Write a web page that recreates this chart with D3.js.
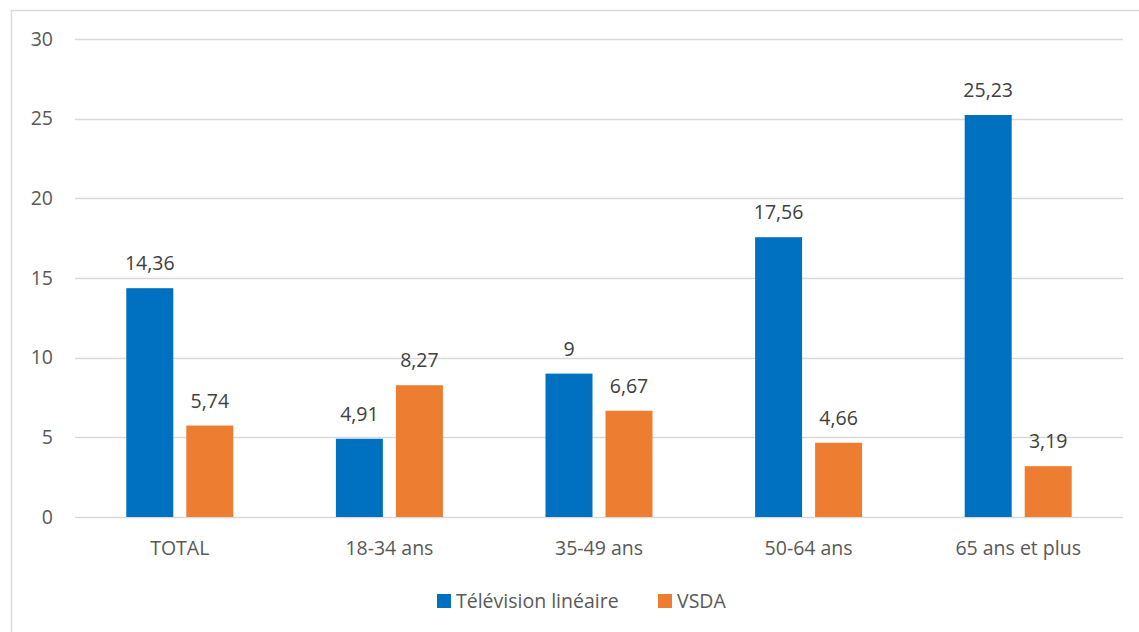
<!DOCTYPE html>
<html>
<head>
<meta charset="utf-8">
<script src="https://cdnjs.cloudflare.com/ajax/libs/d3/7.8.5/d3.min.js"></script>
<style>
  body { margin: 0; background: #fff; }
  svg text { font-family: "Open Sans", "Noto Sans", sans-serif; fill: #595959; }
</style>
</head>
<body>
<svg width="1139" height="632"></svg>
<script>
// data
var categories = ["TOTAL", "18-34 ans", "35-49 ans", "50-64 ans", "65 ans et plus"];
var seriesNames = ["Télévision linéaire", "VSDA"];
var tvValues = [14.36, 4.91, 9, 17.56, 25.23];
var vsdaValues = [5.74, 8.27, 6.67, 4.66, 3.19];
var yTicks = [0, 5, 10, 15, 20, 25, 30];
var colors = ["#0070C0", "#ED7D31"];

var svg = d3.select("svg");
var fontSize = "19.5px";

// chart frame
svg.append("rect")
    .attr("x", 11.5).attr("y", 10.5)
    .attr("width", 1139).attr("height", 640)
    .attr("fill", "none")
    .attr("stroke", "#D9D9D9")
    .attr("stroke-width", 1.5);

var plotLeft = 75, plotRight = 1123, plotTop = 39, plotBottom = 517;

var y = d3.scaleLinear().domain([0, 30]).range([plotBottom, plotTop]);
var x0 = d3.scaleBand().domain(categories).range([plotLeft, plotRight]).padding(0);
var x1 = d3.scaleBand().domain(seriesNames)
    .range([x0.bandwidth() / 2 - 53.5, x0.bandwidth() / 2 + 53.5])
    .paddingInner(0.217);

// grid
svg.append("g").selectAll("line")
    .data(yTicks)
    .enter().append("line")
    .attr("x1", plotLeft).attr("x2", plotRight)
    .attr("y1", function(d) { return Math.round(y(d)) + 0.5; })
    .attr("y2", function(d) { return Math.round(y(d)) + 0.5; })
    .attr("stroke", "#D9D9D9")
    .attr("stroke-width", 1.5);

// y labels
svg.append("g").selectAll("text")
    .data(yTicks)
    .enter().append("text")
    .attr("x", 53)
    .attr("y", function(d) { return y(d); })
    .attr("dy", "0.35em")
    .attr("text-anchor", "end")
    .style("font-size", fontSize)
    .text(function(d) { return d; });

var rows = categories.map(function(c, i) {
  return { cat: c, vals: [tvValues[i], vsdaValues[i]] };
});

var groups = svg.append("g").selectAll("g")
    .data(rows)
    .enter().append("g")
    .attr("transform", function(d) { return "translate(" + x0(d.cat) + ",0)"; });

groups.selectAll("rect")
    .data(function(d) { return d.vals.map(function(v, j) { return { s: seriesNames[j], v: v, j: j }; }); })
    .enter().append("rect")
    .attr("x", function(d) { return x1(d.s); })
    .attr("width", x1.bandwidth())
    .attr("y", function(d) { return y(d.v); })
    .attr("height", function(d) { return y(0) - y(d.v); })
    .attr("fill", function(d) { return colors[d.j]; });

groups.selectAll("text")
    .data(function(d) { return d.vals.map(function(v, j) { return { s: seriesNames[j], v: v }; }); })
    .enter().append("text")
    .attr("x", function(d) { return x1(d.s) + x1.bandwidth() / 2; })
    .attr("y", function(d) { return y(d.v) - 18; })
    .attr("text-anchor", "middle")
    .style("font-size", fontSize)
    .style("fill", "#404040")
    .text(function(d) { return String(d.v).replace(".", ","); });

// category labels
svg.append("g").selectAll("text")
    .data(categories)
    .enter().append("text")
    .attr("x", function(d) { return x0(d) + x0.bandwidth() / 2; })
    .attr("y", 548)
    .attr("dy", "0.35em")
    .attr("text-anchor", "middle")
    .style("font-size", fontSize)
    .text(function(d) { return d; });

// legend
var legendX = [437, 658];
var legend = svg.append("g").selectAll("g")
    .data(seriesNames)
    .enter().append("g")
    .attr("transform", function(d, i) { return "translate(" + legendX[i] + ",601)"; });
legend.append("rect")
    .attr("x", 0).attr("y", -7)
    .attr("width", 14).attr("height", 14)
    .attr("fill", function(d, i) { return colors[i]; });
legend.append("text")
    .attr("x", 19)
    .attr("dy", "0.35em")
    .style("font-size", fontSize)
    .text(function(d) { return d; });
</script>
</body>
</html>
